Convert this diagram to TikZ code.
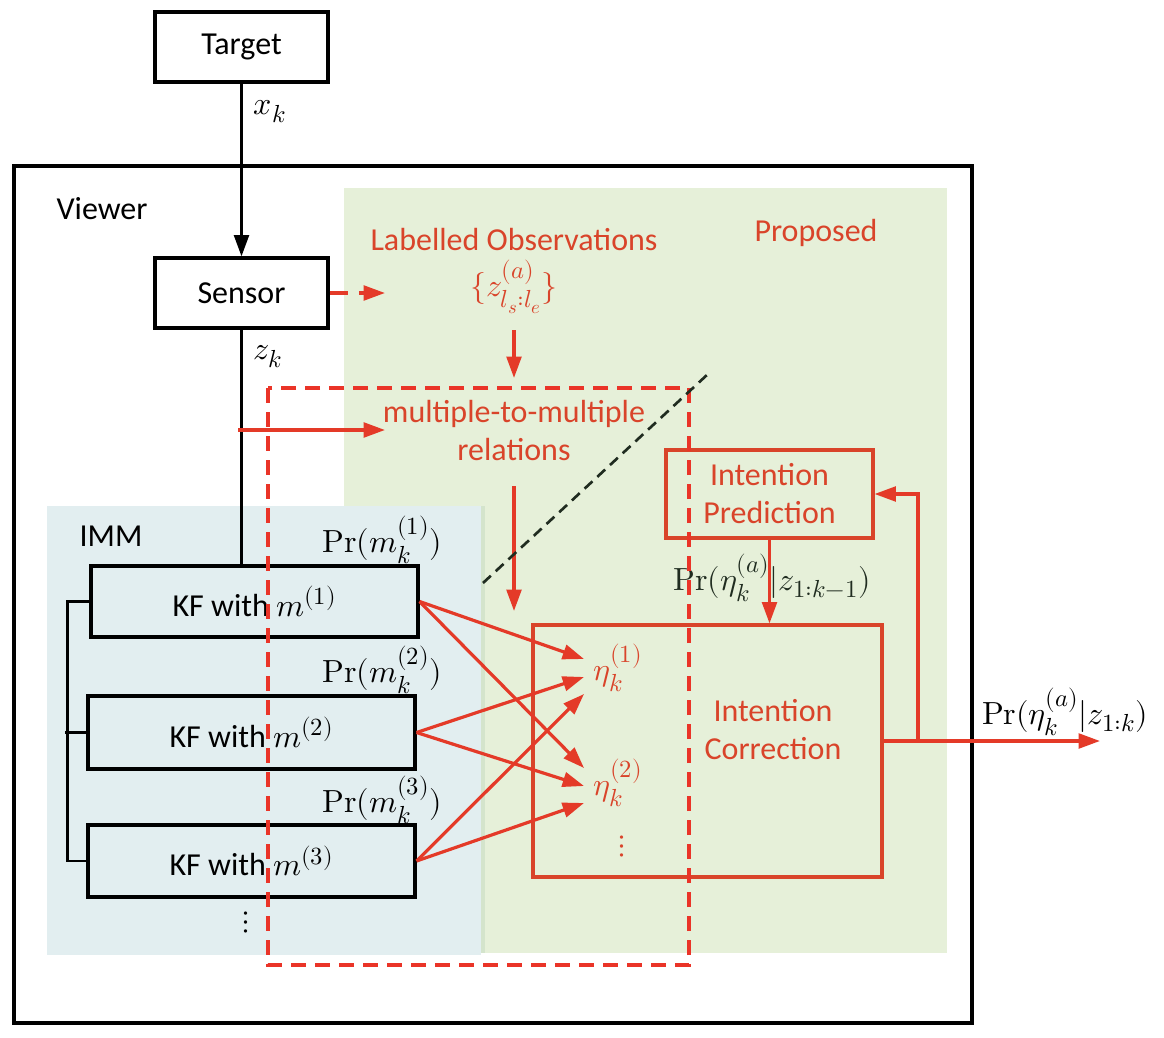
\documentclass[tikz,border=0pt]{standalone}
\usepackage{unicode-math}
\setmainfont{Carlito}
\DeclareMathSizes{24}{24}{18.5}{14}
\usetikzlibrary{arrows.meta,calc}
\definecolor{myred}{RGB}{217,68,42}
\definecolor{arrred}{RGB}{228,58,40}
\definecolor{dashred}{RGB}{234,52,40}
\definecolor{pgreen}{RGB}{230,240,217}
\definecolor{pblue}{RGB}{226,238,240}
\definecolor{stripe}{RGB}{212,228,204}
\definecolor{darkg}{RGB}{32,44,32}
\newcommand{\PrOp}{\symup{Pr}}
\begin{document}
\begin{tikzpicture}[x=0.75pt,y=-0.75pt,
  font=\fontsize{24}{28.5}\selectfont,
  bbox/.style={draw=black,line width=2.3pt,inner sep=0pt},
  rbox/.style={draw=myred,line width=2.3pt,inner sep=0pt},
  lab/.style={inner sep=0pt,align=center},
  rtext/.style={lab,text=myred},
  arr/.style={-{Triangle[length=16pt,width=11pt]}},
  rarr/.style={arr,draw=arrred,line width=2.4pt},
  barr/.style={arr,draw=black,line width=2.4pt}]
\useasboundingbox (0,0) rectangle (1164,1038);
\fill[white] (0,0) rectangle (1164,1038);
% regions
\fill[pgreen] (344,188) rectangle (947,953);
\fill[pblue] (47,506) rectangle (481,955);
\fill[stripe] (481,506) rectangle (485,953);
\draw[line width=2.3pt] (14,166) rectangle (972,1023);

% boxes
\node[bbox,minimum width=129.75pt,minimum height=52.5pt] (target) at (241.5,47) {Target};
\node[bbox,minimum width=129.75pt,minimum height=52.5pt] (sensor) at (241.5,293) {Sensor};
\node[bbox,minimum width=245.25pt,minimum height=53.25pt] (kf1) at (254.5,601.5) {KF with $m^{(1)}$};
\node[bbox,minimum width=245.25pt,minimum height=54.75pt] (kf2) at (251.5,732.5) {KF with $m^{(2)}$};
\node[bbox,minimum width=245.25pt,minimum height=54pt] (kf3) at (251.5,861) {KF with $m^{(3)}$};
\node[rbox,rtext,minimum width=155.25pt,minimum height=66pt] (ip) at (769.5,494) {Intention\\Prediction};
\node[rbox,minimum width=261.75pt,minimum height=189pt] (ic) at (707.5,751) {};
\node[rtext] (ictext) at (773,730) {Intention\\Correction};

% labels
\node[lab] (xk) at (270,112) {$x_k$};
\node[lab] (zk) at (268,357) {$z_k$};
\node[lab] (viewer) at (102,209) {Viewer};
\node[rtext] (proposed) at (816,233) {Proposed};
\node[rtext] (lobs) at (514,240) {Labelled Observations};
\node[rtext] (lobsz) at (514,287) {$\{z^{(a)}_{l_s:l_e}\}$};
\node[rtext] (m2m) at (514,431) {multiple-to-multiple\\relations};
\node[lab] (imm) at (111,536) {IMM};
\node[lab] (pr1) at (382,540) {$\PrOp(m_k^{(1)})$};
\node[lab] (pr2) at (382,670) {$\PrOp(m_k^{(2)})$};
\node[lab] (pr3) at (382,800) {$\PrOp(m_k^{(3)})$};
\node[lab,text=darkg] (prp) at (772,578) {$\PrOp(\eta_k^{(a)}|z_{1:k-1})$};
\node[lab] (prout) at (1065,712) {$\PrOp(\eta_k^{(a)}|z_{1:k})$};
\node[rtext] (eta1) at (618,668) {$\eta_k^{(1)}$};
\node[rtext] (eta2) at (618,783) {$\eta_k^{(2)}$};
\node[rtext] (rdots) at (622,846) {$\vdots$};
\node[lab] (bdots) at (246,922) {$\vdots$};

% coordinates
\coordinate (sdash) at (385,293);
\coordinate (lobsa) at (514,330);
\coordinate (lobsb) at (514,378);
\coordinate (zsplit) at (238,430);
\coordinate (m2min) at (385,430);
\coordinate (m2ma) at (514,486);
\coordinate (m2mb) at (514,611);
\coordinate (e1a) at (584,659);
\coordinate (e1b) at (584,677);
\coordinate (e1c) at (584,694);
\coordinate (e2a) at (584,768);
\coordinate (e2b) at (584,786);
\coordinate (e2c) at (584,803);
\coordinate (diagA) at (483,583);
\coordinate (diagB) at (708,374);
\coordinate (out) at (1100,741);
\coordinate (fb) at (918,741);

% black connectors
\draw[barr] (target) -- (sensor);
\draw[line width=2.3pt] (sensor.south) -- (sensor.south |- kf1.north);
\draw[line width=1.8pt] (kf1.west) -- ++(-22,0) |- (kf3.west);
\draw[line width=1.8pt] (kf2.west) -- ++(-21,0);

% red connectors
\draw[rarr,dash pattern=on 14pt off 8pt] (sensor.east) -- (sdash);
\draw[rarr] (lobsa) -- (lobsb);
\draw[rarr] (zsplit) -- (m2min);
\draw[rarr] (m2ma) -- (m2mb);
\draw[rarr] (kf1.east) -- (e1a);
\draw[rarr] (kf1.east) -- (e2a);
\draw[rarr] (kf2.east) -- (e1b);
\draw[rarr] (kf2.east) -- (e2b);
\draw[rarr] (kf3.east) -- (e1c);
\draw[rarr] (kf3.east) -- (e2c);
\draw[rarr] (ip.south) -- (ip.south |- ic.north);
\draw[rarr] (ic.east |- out) -- (out);
\draw[rarr] (fb) |- (ip.east);

% dashed overlays
\draw[dashred,line width=2.8pt,dash pattern=on 11pt off 7pt] (268,388) rectangle (689,965);
\draw[darkg,line width=2pt,dash pattern=on 8pt off 5pt] (diagA) -- (diagB);
\end{tikzpicture}
\end{document}
